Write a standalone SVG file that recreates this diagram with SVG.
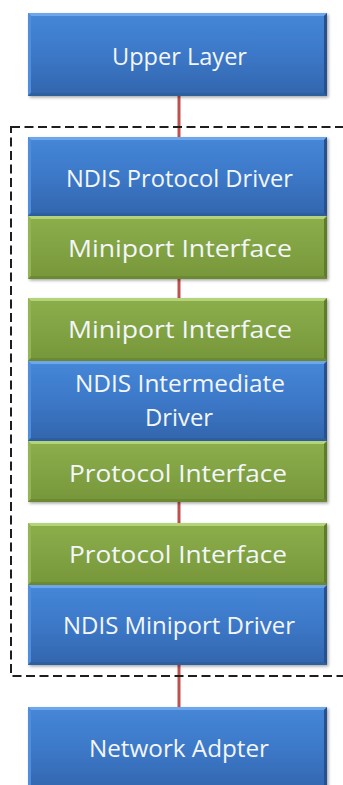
<svg xmlns="http://www.w3.org/2000/svg" width="343" height="785" viewBox="0 0 343 785">
  <defs>
    <linearGradient id="blueFill" x1="0" y1="0" x2="0" y2="1">
      <stop offset="0" stop-color="#4687d8"/>
      <stop offset="0.5" stop-color="#3c78c8"/>
      <stop offset="1" stop-color="#3265ac"/>
    </linearGradient>
    <linearGradient id="greenFill" x1="0" y1="0" x2="0" y2="1">
      <stop offset="0" stop-color="#8cae4a"/>
      <stop offset="0.5" stop-color="#82a343"/>
      <stop offset="1" stop-color="#76963a"/>
    </linearGradient>
    <filter id="shadow" x="-5%" y="-10%" width="115%" height="130%">
      <feDropShadow dx="1.5" dy="1.5" stdDeviation="1.5" flood-color="#000" flood-opacity="0.35"/>
    </filter>
  </defs>
  <style>
    .blue { fill: url(#blueFill); }
    .green { fill: url(#greenFill); }
    .box { filter: url(#shadow); }
    .hiB { fill: #6ea6ec; }
    .hiG { fill: #b4d47c; }
    .lfB { fill: #4f8edc; }
    .lfG { fill: #93b552; }
    .dkB { fill: #26518e; }
    .dkG { fill: #5f7c2c; }
    .btB { fill: #2f5f9f; }
    .btG { fill: #6c8a33; }
    .label { font-family: "Open Sans", "Liberation Sans", sans-serif; font-size: 24px; fill: #f3f6fb; text-anchor: middle; }
    .link { stroke: #c0504d; stroke-width: 3; fill: none; }
    .frame { fill: none; stroke: #1e1e1e; stroke-width: 2; stroke-dasharray: 9 4.5; }
  </style>
  <rect width="343" height="785" fill="#ffffff"/>

  <!-- connectors between layers -->
  <g id="connectors">
    <line class="link" x1="179" y1="96" x2="179" y2="137"/>
    <line class="link" x1="179" y1="279" x2="179" y2="298"/>
    <line class="link" x1="179" y1="502" x2="179" y2="523"/>
    <line class="link" x1="179" y1="665" x2="179" y2="707"/>
  </g>

  <!-- dashed boundary around the NDIS driver stack -->
  <rect id="ndis-stack" class="frame" x="11" y="127" width="345" height="549"/>

  <g id="upper-layer">
    <g class="box">
      <rect class="blue" x="28" y="13" width="299" height="83"/>
      <polygon class="hiB" points="28,13 327,13 324,16 31,16"/>
      <polygon class="lfB" points="28,13 31,16 31,93 28,96"/>
      <polygon class="dkB" points="327,13 327,96 324,93 324,16"/>
      <polygon class="btB" points="28,96 327,96 324,93 31,93"/>
    </g>
    <text class="label" x="179.5" y="65" textLength="135" lengthAdjust="spacingAndGlyphs">Upper Layer</text>
  </g>

  <g id="ndis-protocol-driver">
    <g class="box">
      <rect class="blue" x="28" y="137" width="299" height="79"/>
      <polygon class="hiB" points="28,137 327,137 324,140 31,140"/>
      <polygon class="lfB" points="28,137 31,140 31,213 28,216"/>
      <polygon class="dkB" points="327,137 327,216 324,213 324,140"/>
      <polygon class="btB" points="28,216 327,216 324,213 31,213"/>
    </g>
    <text class="label" x="179.5" y="187" textLength="227" lengthAdjust="spacingAndGlyphs">NDIS Protocol Driver</text>
  </g>

  <g id="miniport-interface-upper">
    <g class="box">
      <rect class="green" x="28" y="216" width="299" height="63"/>
      <polygon class="hiG" points="28,216 327,216 324,219 31,219"/>
      <polygon class="lfG" points="28,216 31,219 31,276 28,279"/>
      <polygon class="dkG" points="327,216 327,279 324,276 324,219"/>
      <polygon class="btG" points="28,279 327,279 324,276 31,276"/>
    </g>
    <text class="label" x="180" y="257" textLength="224" lengthAdjust="spacingAndGlyphs">Miniport Interface</text>
  </g>

  <g id="miniport-interface-lower">
    <g class="box">
      <rect class="green" x="28" y="298" width="299" height="63"/>
      <polygon class="hiG" points="28,298 327,298 324,301 31,301"/>
      <polygon class="lfG" points="28,298 31,301 31,358 28,361"/>
      <polygon class="dkG" points="327,298 327,361 324,358 324,301"/>
      <polygon class="btG" points="28,361 327,361 324,358 31,358"/>
    </g>
    <text class="label" x="180" y="338" textLength="224" lengthAdjust="spacingAndGlyphs">Miniport Interface</text>
  </g>

  <g id="ndis-intermediate-driver">
    <g class="box">
      <rect class="blue" x="28" y="361" width="299" height="80"/>
      <polygon class="hiB" points="28,361 327,361 324,364 31,364"/>
      <polygon class="lfB" points="28,361 31,364 31,438 28,441"/>
      <polygon class="dkB" points="327,361 327,441 324,438 324,364"/>
      <polygon class="btB" points="28,441 327,441 324,438 31,438"/>
    </g>
    <text class="label" x="180" y="392" textLength="210" lengthAdjust="spacingAndGlyphs">NDIS Intermediate</text>
    <text class="label" x="179" y="426" textLength="68" lengthAdjust="spacingAndGlyphs">Driver</text>
  </g>

  <g id="protocol-interface-upper">
    <g class="box">
      <rect class="green" x="28" y="441" width="299" height="61"/>
      <polygon class="hiG" points="28,441 327,441 324,444 31,444"/>
      <polygon class="lfG" points="28,441 31,444 31,499 28,502"/>
      <polygon class="dkG" points="327,441 327,502 324,499 324,444"/>
      <polygon class="btG" points="28,502 327,502 324,499 31,499"/>
    </g>
    <text class="label" x="178" y="482" textLength="218" lengthAdjust="spacingAndGlyphs">Protocol Interface</text>
  </g>

  <g id="protocol-interface-lower">
    <g class="box">
      <rect class="green" x="28" y="523" width="299" height="62"/>
      <polygon class="hiG" points="28,523 327,523 324,526 31,526"/>
      <polygon class="lfG" points="28,523 31,526 31,582 28,585"/>
      <polygon class="dkG" points="327,523 327,585 324,582 324,526"/>
      <polygon class="btG" points="28,585 327,585 324,582 31,582"/>
    </g>
    <text class="label" x="178" y="563" textLength="218" lengthAdjust="spacingAndGlyphs">Protocol Interface</text>
  </g>

  <g id="ndis-miniport-driver">
    <g class="box">
      <rect class="blue" x="28" y="585" width="299" height="80"/>
      <polygon class="hiB" points="28,585 327,585 324,588 31,588"/>
      <polygon class="lfB" points="28,585 31,588 31,662 28,665"/>
      <polygon class="dkB" points="327,585 327,665 324,662 324,588"/>
      <polygon class="btB" points="28,665 327,665 324,662 31,662"/>
    </g>
    <text class="label" x="179" y="634" textLength="232" lengthAdjust="spacingAndGlyphs">NDIS Miniport Driver</text>
  </g>

  <g id="network-adapter">
    <g class="box">
      <rect class="blue" x="28" y="707" width="299" height="86"/>
      <polygon class="hiB" points="28,707 327,707 324,710 31,710"/>
      <polygon class="lfB" points="28,707 31,710 31,793 28,793"/>
      <polygon class="dkB" points="327,707 327,793 324,793 324,710"/>
    </g>
    <text class="label" x="179" y="757" textLength="180" lengthAdjust="spacingAndGlyphs">Network Adpter</text>
  </g>
</svg>
